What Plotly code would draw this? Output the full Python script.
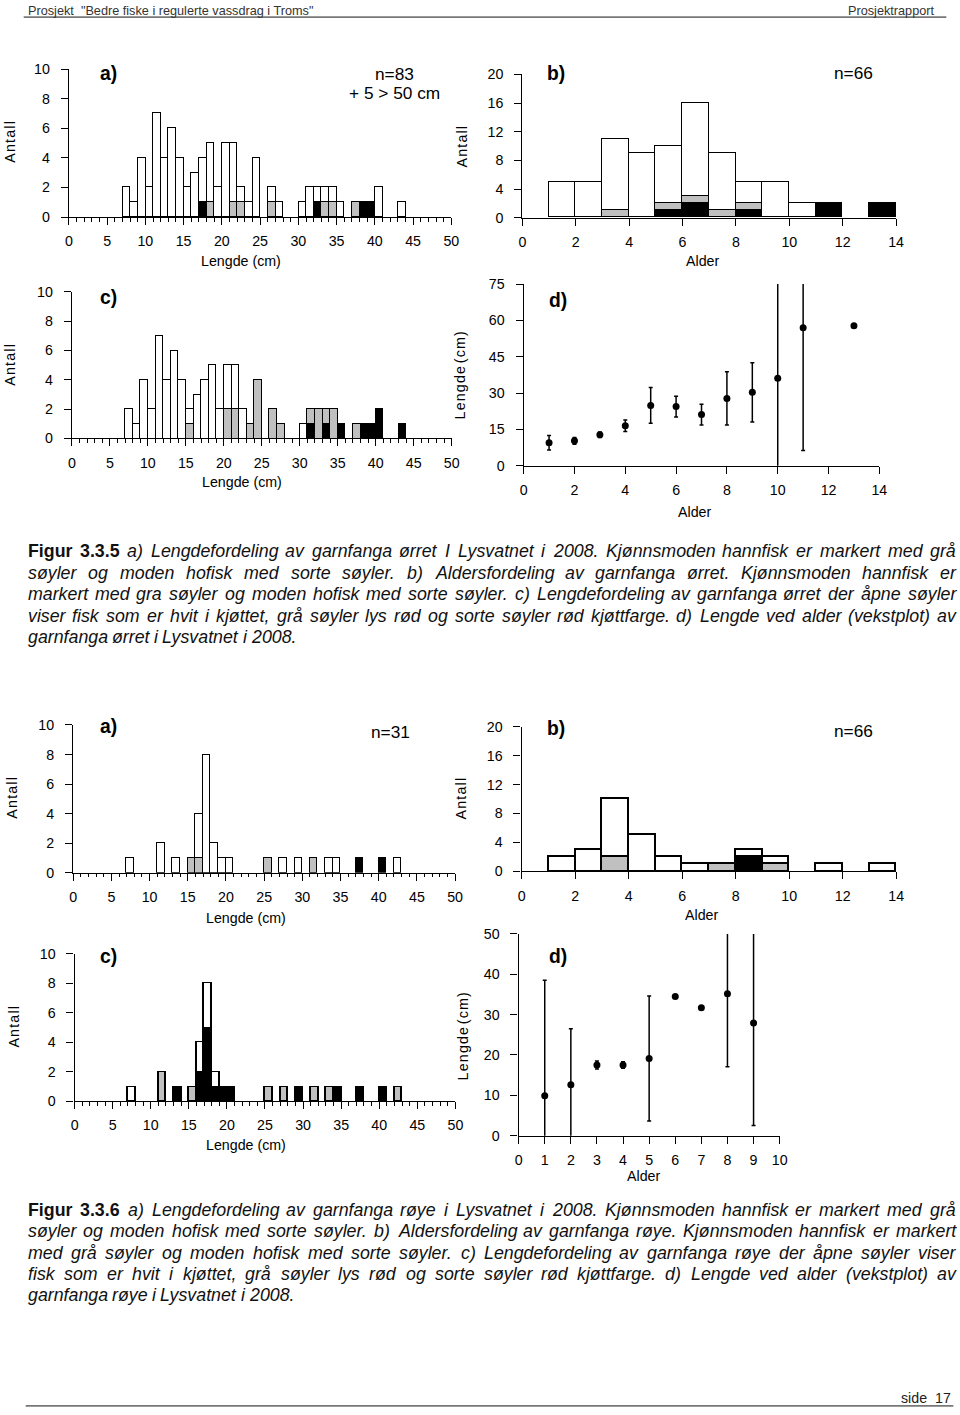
import plotly.graph_objects as go

FIG_W, FIG_H = 960, 1415
GRAY = '#c0c0c0'
FONT = 'Liberation Sans, Arial, Helvetica, sans-serif'

# ---------------- DATA : Figur 3.3.5 (ørret) ----------------
# a) length distribution, classes given by lower bound (cm)
a1_len   = [7, 8, 9, 10, 11, 12, 13, 14, 15, 16, 17, 18, 19, 20, 21, 22, 23, 24, 26, 27, 30, 31, 32, 33, 34, 35, 37, 38, 39, 40, 43]
a1_total = [2, 1, 4, 2, 7, 4, 6, 4, 2, 3, 4, 5, 2, 5, 5, 2, 1, 4, 2, 1, 1, 2, 2, 2, 2, 1, 1, 1, 1, 2, 1]
a1_gray_len, a1_gray_n = [18, 21, 22, 26, 33, 34, 37], [1, 1, 1, 1, 1, 1, 1]
a1_black_len, a1_black_n = [17, 32, 38, 39], [1, 1, 1, 1]

# b) age distribution (age class lower bound)
b1_age   = [1, 2, 3, 4, 5, 6, 7, 8, 9, 10, 11, 12, 13]
b1_total = [5, 5, 11, 9, 10, 16, 9, 5, 5, 2, 2, 0, 2]
b1_gray_age, b1_gray_n = [3, 5, 6, 7, 8], [1, 1, 1, 1, 1]
b1_black_age, b1_black_n = [5, 6, 8, 11, 13], [1, 2, 1, 2, 2]

# c) length distribution by flesh colour
c1_len   = a1_len
c1_total = a1_total
c1_gray_len, c1_gray_n = [15, 20, 21, 23, 24, 26, 27, 31, 32, 33, 34, 37], [1, 2, 2, 1, 4, 2, 1, 1, 2, 1, 2, 1]
c1_black_len, c1_black_n = [31, 33, 35, 38, 39, 40, 43], [1, 1, 1, 1, 1, 2, 1]

# d) length at age
d1_age  = [1, 2, 3, 4, 5, 6, 7, 8, 9, 10, 11, 13]
d1_mean = [9.5, 10.3, 12.8, 16.5, 24.9, 24.4, 21.1, 27.8, 30.3, 36.1, 57.0, 57.8]
d1_sd   = [3.0, 1.4, 1.1, 2.4, 7.4, 4.3, 4.3, 11.0, 12.2, 40.0, 50.7, 0.0]

# ---------------- DATA : Figur 3.3.6 (røye) ----------------
a2_len   = [7, 11, 13, 15, 16, 17, 18, 19, 20, 25, 27, 29, 31, 33, 34, 37, 40, 42]
a2_total = [1, 2, 1, 1, 4, 8, 2, 1, 1, 1, 1, 1, 1, 1, 1, 1, 1, 1]
a2_gray_len, a2_gray_n = [15, 16, 25, 31], [1, 1, 1, 1]
a2_black_len, a2_black_n = [37, 40], [1, 1]

b2_age   = [1, 2, 3, 4, 5, 6, 7, 8, 9, 10, 11, 12, 13]
b2_total = [2, 3, 10, 5, 2, 1, 1, 3, 2, 0, 1, 0, 1]
b2_gray_age, b2_gray_n = [3, 7, 9], [2, 1, 1]
b2_black_age, b2_black_n = [8], [2]

c2_len   = a2_len
c2_total = a2_total
c2_gray_len, c2_gray_n = [11, 15, 25, 27, 31, 33, 42], [2, 1, 1, 1, 1, 1, 1]
c2_black_len, c2_black_n = [13, 16, 17, 18, 19, 20, 29, 34, 37, 40], [1, 2, 5, 1, 1, 1, 1, 1, 1, 1]

d2_age  = [1, 2, 3, 4, 5, 6, 7, 8, 9]
d2_mean = [9.9, 12.6, 17.5, 17.5, 19.1, 34.5, 31.7, 35.2, 27.9]
d2_sd   = [28.6, 13.9, 1.0, 0.8, 15.5, 0.0, 0.0, 18.1, 25.4]

HEADER_LEFT = 'Prosjekt\u00a0\u00a0"Bedre fiske i regulerte vassdrag i Troms"'
HEADER_RIGHT = 'Prosjektrapport'
FOOTER = 'side\u00a0\u00a017'

CAP1 = [
    "Figur 3.3.5 a) Lengdefordeling av garnfanga ørret I Lysvatnet i 2008. Kjønnsmoden hannfisk er markert med grå",
    "søyler og moden hofisk med sorte søyler. b) Aldersfordeling av garnfanga ørret. Kjønnsmoden hannfisk er",
    "markert med gra søyler og moden hofisk med sorte søyler. c) Lengdefordeling av garnfanga ørret der åpne søyler",
    "viser fisk som er hvit i kjøttet, grå søyler lys rød og sorte søyler rød kjøttfarge. d) Lengde ved alder (vekstplot) av",
    "garnfanga ørret i Lysvatnet i 2008.",
]
CAP2 = [
    "Figur 3.3.6 a) Lengdefordeling av garnfanga røye i Lysvatnet i 2008. Kjønnsmoden hannfisk er markert med grå",
    "søyler og moden hofisk med sorte søyler. b) Aldersfordeling av garnfanga røye. Kjønnsmoden hannfisk er markert",
    "med grå søyler og moden hofisk med sorte søyler. c) Lengdefordeling av garnfanga røye der åpne søyler viser",
    "fisk som er hvit i kjøttet, grå søyler lys rød og sorte søyler rød kjøttfarge. d) Lengde ved alder (vekstplot) av",
    "garnfanga røye i Lysvatnet i 2008.",
]

# ---------------- helpers ----------------
# target-picture pixel -> paper fraction (compensates the observed inset + fit scaling)
SX, SY = (FIG_W + 16) / FIG_W, (FIG_H + 16) / FIG_H
OX, OY = 6.5, 8
FS = SX  # font compensation


def px(x):
    return (x * SX - OX) / FIG_W


def py(y):
    return 1 - (y * SY - OY) / FIG_H


PANELS = {
    1: ((71, 452), (69, 217)),
    2: ((522.7, 895), (74.3, 217.7)),
    3: ((74, 452.3), (291.7, 438.3)),
    4: ((524, 878.3), (284, 465.7)),
    5: ((75.3, 455.7), (725, 872.7)),
    6: ((522, 895), (726.7, 871.3)),
    7: ((76.7, 456), (954, 1101.3)),
    8: ((519, 779), (934, 1135.7)),
}

fig = go.Figure()
TICKFONT = dict(family=FONT, size=14 * FS, color='black')


def refs(i):
    return ('x', 'y') if i == 1 else (f'x{i}', f'y{i}')


def add_axes(i, xr, xdtick, yr, ydtick, minor=False):
    (x0, x1), (y0, y1) = PANELS[i]
    xr_, yr_ = refs(i)
    common = dict(showline=True, linecolor='black', linewidth=1.3, ticks='outside',
                  tickcolor='black', tickwidth=1.3, showgrid=False, zeroline=False,
                  tickfont=TICKFONT, fixedrange=True, tick0=0)
    xa = dict(domain=[px(x0), px(x1)], range=xr, dtick=xdtick, anchor=yr_, ticklen=7,
              ticklabelstandoff=4, **common)
    if minor:
        xa['minor'] = dict(dtick=1, tick0=0, ticks='outside', ticklen=3.5, tickwidth=1,
                           tickcolor='black', showgrid=False)
    ya = dict(domain=[py(y1), py(y0)], range=yr, dtick=ydtick, anchor=xr_, ticklen=7,
              ticklabelstandoff=8, **common)
    fig.layout['xaxis' if i == 1 else f'xaxis{i}'] = xa
    fig.layout['yaxis' if i == 1 else f'yaxis{i}'] = ya


def stacked(i, lo, total, g_lo, g_n, b_lo, b_n):
    xr_, yr_ = refs(i)
    gmap = dict(zip(g_lo, g_n))
    bmap = dict(zip(b_lo, b_n))
    black = [bmap.get(v, 0) for v in lo]
    gray = [gmap.get(v, 0) for v in lo]
    white = [t - g - b for t, g, b in zip(total, gray, black)]
    xs = [v + 0.5 for v in lo]
    for vals, col in ((black, 'black'), (gray, GRAY), (white, 'white')):
        fig.add_trace(go.Bar(
            x=xs, y=[v if v > 0 else None for v in vals], width=1,
            marker=dict(color=col, line=dict(color='black', width=1.2)),
            xaxis=xr_, yaxis=yr_, showlegend=False, hoverinfo='skip'))


def growth(i, age, mean, sd):
    xr_, yr_ = refs(i)
    fig.add_trace(go.Scatter(
        x=age, y=mean, mode='markers',
        marker=dict(color='black', size=7, line=dict(width=0)),
        error_y=dict(type='data', array=sd, visible=True, color='black', thickness=1.5, width=2),
        xaxis=xr_, yaxis=yr_, showlegend=False, hoverinfo='skip'))


ann = []


def text(x, y, s, size, bold=False, angle=0, xanchor='center', color='black', italic=False, family=FONT):
    if bold:
        s = f'<b>{s}</b>'
    if italic:
        s = f'<i>{s}</i>'
    ann.append(dict(x=px(x), y=py(y), xref='paper', yref='paper', text=s, showarrow=False,
                    xanchor=xanchor, yanchor='middle', textangle=angle,
                    font=dict(family=family, size=size * FS, color=color)))


# ---------------- panels ----------------
stacked(1, a1_len, a1_total, a1_gray_len, a1_gray_n, a1_black_len, a1_black_n)
stacked(2, b1_age, b1_total, b1_gray_age, b1_gray_n, b1_black_age, b1_black_n)
stacked(3, c1_len, c1_total, c1_gray_len, c1_gray_n, c1_black_len, c1_black_n)
growth(4, d1_age, d1_mean, d1_sd)
stacked(5, a2_len, a2_total, a2_gray_len, a2_gray_n, a2_black_len, a2_black_n)
stacked(6, b2_age, b2_total, b2_gray_age, b2_gray_n, b2_black_age, b2_black_n)
stacked(7, c2_len, c2_total, c2_gray_len, c2_gray_n, c2_black_len, c2_black_n)
growth(8, d2_age, d2_mean, d2_sd)

add_axes(1, [0, 50], 5, [0, 10], 2, minor=True)
add_axes(2, [0, 14], 2, [0, 20], 4)
add_axes(3, [0, 50], 5, [0, 10], 2, minor=True)
add_axes(4, [0, 14], 2, [0, 75], 15)
add_axes(5, [0, 50], 5, [0, 10], 2, minor=True)
add_axes(6, [0, 14], 2, [0, 20], 4)
add_axes(7, [0, 50], 5, [0, 10], 2, minor=True)
add_axes(8, [0, 10], 1, [0, 50], 10)

# axis titles
AX = 14
for (x, y, s) in [(242, 261, 'Lengde (cm)'), (702, 261, 'Alder'), (243, 482, 'Lengde (cm)'),
                  (694, 512, 'Alder'), (247, 918, 'Lengde (cm)'), (701, 915, 'Alder'),
                  (247, 1145, 'Lengde (cm)'), (643, 1176, 'Alder')]:
    text(x, y, s, AX)
for (x, y, s) in [(12, 142, 'A n t a l l'), (463, 146, 'A n t a l l'), (12, 365, 'A n t a l l'),
                  (461, 375, 'L e n g d e  ( c m )'), (14, 798, 'A n t a l l'), (462, 798, 'A n t a l l'),
                  (16, 1027, 'A n t a l l'), (464, 1036, 'L e n g d e  ( c m )')]:
    text(x, y, s.replace(' ', '\u200a').replace('\u200a\u200a', '\u2009'), AX, angle=-90)

# panel labels
for (x, y, s) in [(110, 73, 'a)'), (556, 73, 'b)'), (110, 297, 'c)'), (558, 300, 'd)'),
                  (110, 727, 'a)'), (556, 729, 'b)'), (110, 957, 'c)'), (558, 957, 'd)')]:
    text(x, y, s, 19, bold=True)
text(395, 74, 'n=83', 17)
text(395, 93, '+ 5 > 50 cm', 17)
text(853, 73, 'n=66', 17)
text(391, 732, 'n=31', 17)
text(853, 731, 'n=66', 17)

# header / footer
text(28, 10.5, HEADER_LEFT, 12.5, xanchor='left', color='#333')
text(936, 10.5, HEADER_RIGHT, 12.5, xanchor='right', color='#333')
text(952, 1398, FOOTER, 14, xanchor='right', color='#222')

# ---------------- justified captions ----------------
HW = {' ': 278, '(': 333, ')': 333, ',': 278, '.': 278, '-': 333, '"': 355,
      'A': 667, 'B': 667, 'C': 722, 'D': 722, 'E': 667, 'F': 611, 'G': 778, 'H': 722, 'I': 278,
      'J': 500, 'K': 667, 'L': 556, 'M': 833, 'N': 722, 'O': 778, 'P': 667, 'R': 722, 'S': 667,
      'T': 611, 'U': 722, 'V': 667, 'W': 944,
      'a': 556, 'b': 556, 'c': 500, 'd': 556, 'e': 556, 'f': 278, 'g': 556, 'h': 556, 'i': 222,
      'j': 222, 'k': 500, 'l': 222, 'm': 833, 'n': 556, 'o': 556, 'p': 556, 'q': 556, 'r': 333,
      's': 500, 't': 278, 'u': 556, 'v': 500, 'w': 722, 'x': 500, 'y': 500, 'z': 500,
      'ø': 611, 'å': 556, 'æ': 889}
HB = {'F': 611, 'i': 278, 'g': 611, 'u': 611, 'r': 389, '.': 278}


def wem(word, bold=False):
    tot = 0
    for ch in word:
        if bold and ch in HB:
            tot += HB[ch]
        elif ch.isdigit():
            tot += 556
        else:
            tot += HW.get(ch, 556)
    return tot / 1000


LEFT, RIGHT = 28, 952


def caption(lines, ys):
    words_all = [ln.split(' ') for ln in lines]
    natural = []
    for li, words in enumerate(words_all):
        em = sum(wem(w, bold=(li == 0 and wi < 2)) for wi, w in enumerate(words))
        natural.append(em + 0.278 * (len(words) - 1))
    fs = min(17.5, min((RIGHT - LEFT) / n for n in natural[:-1]) * 0.995)
    for li, (words, y) in enumerate(zip(words_all, ys)):
        widths = [wem(w, bold=(li == 0 and wi < 2)) * fs for wi, w in enumerate(words)]
        last = li == len(lines) - 1
        if last:
            gap = 0.278 * fs
        else:
            gap = (RIGHT - LEFT - sum(widths)) / (len(words) - 1)
        x = LEFT
        for wi, (w, wd) in enumerate(zip(words, widths)):
            b = li == 0 and wi < 2
            text(x, y, w, fs, bold=b, italic=not b, xanchor='left', color='#111')
            x += wd + gap


caption(CAP1, [551, 572.5, 594, 615.5, 637])
caption(CAP2, [1210, 1231.5, 1253, 1274, 1295.5])

shapes = [
    dict(type='line', xref='paper', yref='paper', x0=px(26), x1=px(945), y0=py(17), y1=py(17),
         line=dict(color='#777', width=1.6)),
    dict(type='line', xref='paper', yref='paper', x0=px(28), x1=px(952), y0=py(1406), y1=py(1406),
         line=dict(color='#777', width=1.6)),
]

fig.update_layout(
    width=FIG_W, height=FIG_H, autosize=False,
    margin=dict(l=0, r=0, t=0, b=0, pad=0),
    paper_bgcolor='white', plot_bgcolor='rgba(0,0,0,0)',
    barmode='stack', bargap=0,
    annotations=ann, shapes=shapes,
    font=dict(family=FONT, color='black'),
)

POST = (
    "document.documentElement.style.margin='0';document.documentElement.style.padding='0';"
    "document.body.style.margin='0';document.body.style.padding='0';"
)
fig.write_html("out.html", config={'displayModeBar': False}, post_script=POST)
